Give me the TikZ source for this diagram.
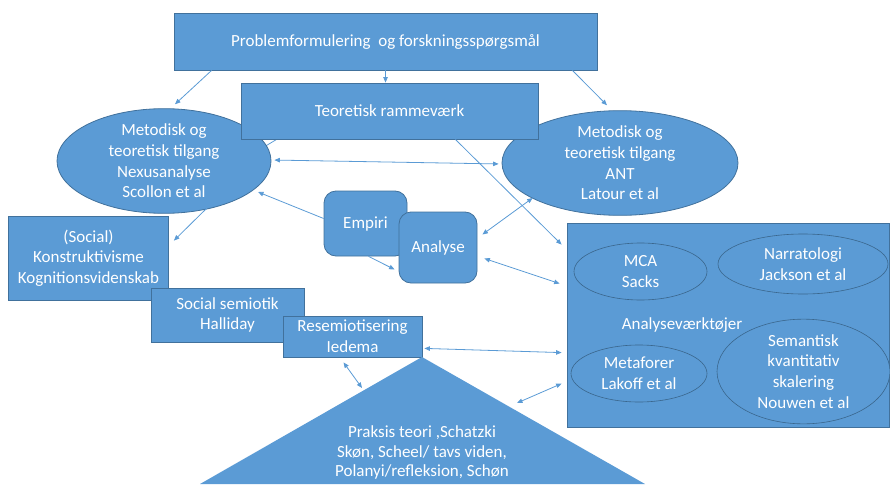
\documentclass[tikz,border=0pt]{standalone}
\usepackage{fontspec}
\setmainfont{Carlito}
\usetikzlibrary{arrows.meta,shapes.geometric,backgrounds}
\definecolor{fillb}{HTML}{5B9BD5}
\definecolor{bdr}{HTML}{41719C}
\tikzset{
  blk/.style={draw=bdr, line width=0.8pt, fill=fillb, text=white, inner sep=0pt, align=center,
    font=\fontsize{17}{20.7}\selectfont},
  boxr/.style={blk, rectangle},
  rbox/.style={blk, rectangle, rounded corners=12pt},
  ell/.style={blk, ellipse},
  iell/.style={blk, ellipse, draw=bdr!90!black, line width=0.6pt},
  txt/.style={text=white, align=center, inner sep=0pt, font=\fontsize{17}{20.7}\selectfont},
  conn/.style={draw=fillb, line width=0.8pt, -{Triangle[length=5.5pt,width=4.5pt]}},
  dconn/.style={draw=fillb, line width=0.8pt, {Triangle[length=5.5pt,width=4.5pt]}-{Triangle[length=5.5pt,width=4.5pt]}},
}
\begin{document}
\begin{tikzpicture}[x=1pt,y=-1pt]
\useasboundingbox (0,0) rectangle (890,484);
% top box
\node[boxr, minimum width=423pt, minimum height=57pt] (top) at (385.5,41.5) {Problemformulering\ \ og forskningsspørgsmål};
% ellipses
\node[ell, minimum width=214pt, minimum height=98pt] (lell) at (164,161) {Metodisk og\\teoretisk tilgang\\Nexusanalyse\\Scollon et al};
\node[ell, minimum width=236pt, minimum height=92pt] (rell) at (620,163) {Metodisk og\\teoretisk tilgang\\ANT\\Latour et al};
% theory box
\node[boxr, minimum width=297pt, minimum height=56pt] (teo) at (389.5,111) {Teoretisk rammeværk};
\begin{pgfonlayer}{background}
\draw[draw=fillb, line width=0.8pt] ([xshift=36]teo.south west) -- ([shift={(90,-8)}]lell.center);
\end{pgfonlayer}
% left column boxes
\node[boxr, minimum width=160pt, minimum height=84pt] (soc) at (88.5,258) {(Social)\\Konstruktivisme\\Kognitionsvidenskab};
\node[boxr, minimum width=153pt, minimum height=54pt] (sem) at (227.5,315) {Social semiotik\\Halliday};
\node[boxr, minimum width=139pt, minimum height=41pt] (res) at (352.5,336.5) {Resemiotisering\\Iedema};
% triangle
\coordinate (apex) at (422,357);
\coordinate (tr) at (645,484);
\coordinate (tl) at (200,484);
\fill[fillb] (apex) -- (tr) -- (tl) -- cycle;
\node[txt, font=\fontsize{17}{19.5}\selectfont] (prak) at (422,452.5) {Praksis teori ,Schatzki\\Skøn, Scheel/ tavs viden,\\Polanyi/refleksion, Schøn};
% Empiri / Analyse
\node[rbox, minimum width=83pt, minimum height=65pt] (emp) at (365.5,223.5) {};
\node[txt] at (365.5,224) {Empiri};
\node[rbox, minimum width=78pt, minimum height=71pt] (ana) at (438,247.5) {Analyse};
% analysis tools box
\node[boxr, minimum width=322pt, minimum height=204pt] (abox) at (728,325) {};
\node[iell, minimum width=133pt, minimum height=57pt] (mca) at (640.5,271.5) {MCA\\Sacks};
\node[iell, minimum width=170pt, minimum height=60pt] (nar) at (803,264) {Narratologi\\Jackson et al};
\node[iell, minimum width=136pt, minimum height=57pt] (met) at (639,373.5) {Metaforer\\Lakoff et al};
\node[iell, minimum width=173pt, minimum height=97pt] (sk) at (803.5,371.5) {Semantisk\\kvantitativ\\skalering\\Nouwen et al};
\node[txt] (avt) at (682,325) {Analyseværktøjer};
% connectors
\draw[conn] ([xshift=38]top.south west) -- ([shift={(11,-4)}]lell.north);
\draw[conn] (top.south) -- (top.south |- teo.north);
\draw[conn] ([xshift=-25]top.south east) -- ([shift={(-13,-5)}]rell.north);
\draw[dconn, shorten <=3pt, shorten >=3pt] ([yshift=1]lell.east) -- ([yshift=-1]rell.west);
\draw[conn] ([xshift=-83]teo.south east) -- ([shift={(-5,22)}]abox.north west);
\draw[conn] ([yshift=5]emp.west) -- ([shift={(94,31)}]lell.center);
\draw[conn] ([xshift=3]emp.south) -- ([shift={(-4,22)}]ana.west);
\draw[dconn] ([shift={(5,-13)}]ana.east) -- ([shift={(31,35)}]rell.west);
\draw[dconn] ([shift={(7,11)}]ana.east) -- ([shift={(-7,61)}]abox.north west);
\draw[conn] ([shift={(44,46)}]lell.center) -- ([shift={(5,25)}]soc.north east);
\draw[dconn] ([shift={(2,-9)}]res.south east) -- ([shift={(-5,130)}]abox.north west);
\draw[dconn] ([shift={(-9,5)}]res.south) -- ([shift={(-60,31)}]apex);
\draw[dconn] ([shift={(95,46)}]apex) -- ([shift={(-5,161)}]abox.north west);
\end{tikzpicture}
\end{document}
